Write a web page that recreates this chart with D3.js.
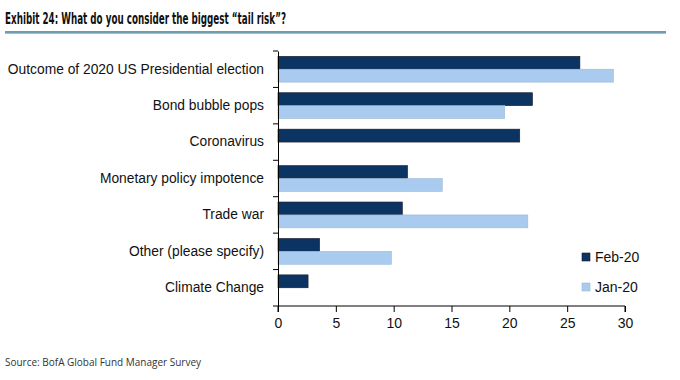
<!DOCTYPE html>
<html><head><meta charset="utf-8">
<script src="https://cdn.jsdelivr.net/npm/d3@7"></script>
<style>body{margin:0;background:#fff}</style>
</head><body><svg id="c" width="680" height="380"></svg>
<script>
const categories = ["Outcome of 2020 US Presidential election","Bond bubble pops","Coronavirus","Monetary policy impotence","Trade war","Other (please specify)","Climate Change"];
const feb20 = [26.1, 22.0, 20.9, 11.2, 10.75, 3.6, 2.6];
const jan20 = [29.0, 19.6, null, 14.2, 21.6, 9.8, null];
const seriesNames = ["Feb-20","Jan-20"];
const xTicks = [0,5,10,15,20,25,30];

(function(){
const svg = d3.select("#c");
const pL = 278, pR = 625, pT = 51, pB = 306;
const x = d3.scaleLinear().domain([0,30]).range([pL,pR]);
const y = d3.scaleBand().domain(categories).range([pT,pB]);
const sub = d3.scaleBand().domain(seriesNames).range([0,y.bandwidth()]).paddingOuter(0.41).paddingInner(0);
const colors = {"Feb-20":"#0b3463","Jan-20":"#a8cbef"};
const strokes = {"Feb-20":"#1a1a2a","Jan-20":"#9fb8d0"};

svg.append("text").attr("x",5).attr("y",24).text("Exhibit 24: What do you consider the biggest \u201ctail risk\u201d?")
  .attr("font-family","'DejaVu Sans Condensed','Liberation Sans',sans-serif").attr("font-weight","bold")
  .attr("font-size",15.5).attr("fill","#111")
  .attr("textLength",281).attr("lengthAdjust","spacingAndGlyphs");
svg.append("rect").attr("x",5).attr("y",31).attr("width",661).attr("height",2).attr("fill","#6e9db3");
svg.append("rect").attr("x",5).attr("y",33).attr("width",661).attr("height",1).attr("fill","#b8b8c0");

const rows = categories.map((c,i)=>({c, vals:[{s:"Feb-20",v:feb20[i]},{s:"Jan-20",v:jan20[i]}]}));
const g = svg.append("g");
rows.forEach(r=>{
  r.vals.filter(d=>d.v!=null).forEach(d=>{
    g.append("rect").attr("x",x(0)).attr("y",y(r.c)+sub(d.s))
     .attr("width",x(d.v)-x(0)).attr("height",sub.bandwidth())
     .attr("fill",colors[d.s]).attr("stroke",strokes[d.s]).attr("stroke-width",0.6);
  });
});

const font = "'Liberation Sans',Arial,sans-serif";
const xa = svg.append("g").attr("transform",`translate(0,${pB})`)
  .call(d3.axisBottom(x).tickValues(xTicks).tickSize(6).tickFormat(d3.format("d")));
xa.select(".domain").attr("d",`M${pL},6V0H${pR}V6`).attr("stroke","#000");
xa.selectAll("text").attr("font-family",font).attr("font-size",14).attr("fill","#111").attr("dy","0.9em");
xa.selectAll(".tick line").attr("stroke","#000");

const ya = svg.append("g").attr("transform",`translate(${pL},0)`)
  .call(d3.axisLeft(y).tickSize(0).tickPadding(14));
ya.select(".domain").attr("stroke","#000");
ya.selectAll("text").attr("font-family",font).attr("font-size",13.8).attr("fill","#111");
const bounds = d3.range(categories.length+1).map(i=>pT+i*y.step());
ya.selectAll(".bt").data(bounds).join("line").attr("class","bt")
  .attr("x1",-5).attr("x2",0).attr("y1",d=>d).attr("y2",d=>d).attr("stroke","#000");

const lg = svg.append("g");
seriesNames.forEach((s,i)=>{
  const yy = 257 + i*30;
  lg.append("rect").attr("x",582).attr("y",yy-4).attr("width",8).attr("height",8)
    .attr("fill",colors[s]).attr("stroke",strokes[s]).attr("stroke-width",0.6);
  lg.append("text").attr("x",595).attr("y",yy).attr("dy","0.35em").text(s)
    .attr("font-family",font).attr("font-size",14).attr("fill","#111");
});

svg.append("text").attr("x",5).attr("y",366).text("Source:  BofA Global Fund Manager Survey")
  .attr("font-family","'Open Sans','DejaVu Sans',sans-serif").attr("font-size",10).attr("fill","#333")
  .attr("textLength",196).attr("lengthAdjust","spacingAndGlyphs");
})();
</script></body></html>
